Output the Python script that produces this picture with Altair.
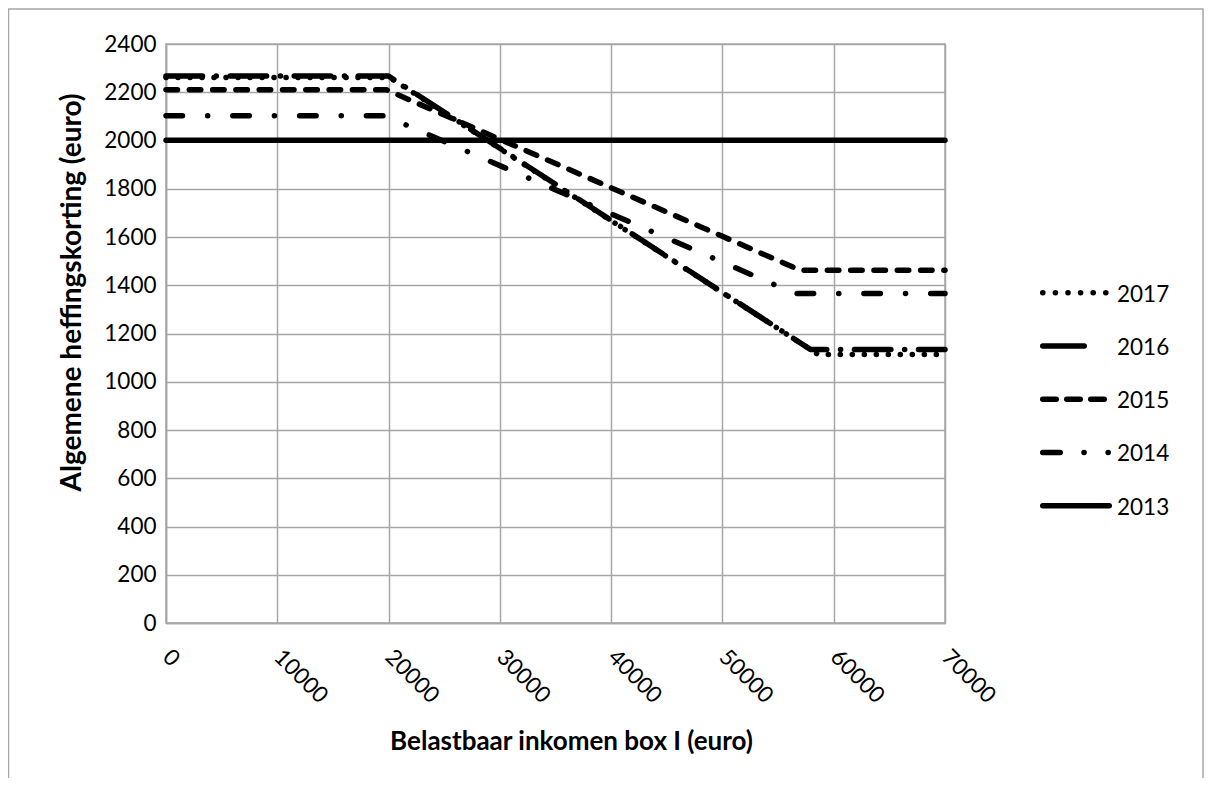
import altair as alt
import pandas as pd

# ---- data ----
years = ["2017", "2016", "2015", "2014", "2013"]

inkomen_2013 = [0, 70000]
korting_2013 = [2001, 2001]

inkomen_2014 = [0, 19645, 56495, 70000]
korting_2014 = [2103, 2103, 1366, 1366]

inkomen_2015 = [0, 19822, 57000, 70000]
korting_2015 = [2210, 2210, 1462, 1462]

inkomen_2016 = [0, 20000, 57900, 70000]
korting_2016 = [2267, 2267, 1134, 1134]

inkomen_2017 = [0, 20108, 58600, 70000]
korting_2017 = [2261, 2261, 1113, 1113]

x_ticks = [0, 10000, 20000, 30000, 40000, 50000, 60000, 70000]
y_ticks = [0, 200, 400, 600, 800, 1000, 1200, 1400, 1600, 1800, 2000, 2200, 2400]

series = {
    "2013": (inkomen_2013, korting_2013),
    "2014": (inkomen_2014, korting_2014),
    "2015": (inkomen_2015, korting_2015),
    "2016": (inkomen_2016, korting_2016),
    "2017": (inkomen_2017, korting_2017),
}
rows = []
for yr, (xs, ys) in series.items():
    for i, (xv, yv) in enumerate(zip(xs, ys)):
        rows.append({"jaar": yr, "inkomen": xv, "korting": yv, "i": i})
df = pd.DataFrame(rows)

leg_df = pd.DataFrame({"jaar": years, "idx": list(range(len(years)))})

# dash patterns (same order as years)
dashes = [
    [0.1, 11.9],                 # 2017 dotted
    [36.5, 13.75, 0.1, 13.75],   # 2016 long dash dot
    [11.5, 11.8],                # 2015 dash
    [16.5, 25.1, 0.1, 25.1],     # 2014 dash dot
    [1, 0],                      # 2013 solid
]
legend_dashes = [
    [0.1, 12.5],
    [41.5, 25, 0.1, 25],
    [13.5, 10.5],
    [17.5, 23.75, 0.1, 24, 0.1, 30],
    [1, 0],
]

GRID = "#a6a6a6"
FONT = "Lato"
LW = 5.5

lines = alt.Chart(df).mark_line(
    color="black", strokeWidth=LW, strokeCap="round", strokeJoin="round"
).encode(
    x=alt.X(
        "inkomen:Q",
        scale=alt.Scale(domain=[0, 70000], nice=False),
        axis=alt.Axis(
            values=x_ticks,
            format="d",
            title="Belastbaar inkomen box I (euro)",
            labelAngle=45,
            labelAlign="left",
            labelBaseline="middle",
            labelPadding=30,
            ticks=False,
            titleX=405,
            titleY=126,
            titleAlign="center",
            titleBaseline="alphabetic",
            titleFontSize=26,
        ),
    ),
    y=alt.Y(
        "korting:Q",
        scale=alt.Scale(domain=[0, 2400], nice=False),
        axis=alt.Axis(
            values=y_ticks,
            format="d",
            title="Algemene heffingskorting (euro)",
            ticks=False,
            labelPadding=10,
            titleX=-94,
            titleY=248,
            titleAngle=-90,
            titleAlign="center",
            titleBaseline="middle",
            titleFontSize=28,
        ),
    ),
    strokeDash=alt.StrokeDash(
        "jaar:N", scale=alt.Scale(domain=years, range=dashes), legend=None
    ),
    order="i:Q",
)

leg_y = alt.Y("idx:Q", scale=alt.Scale(domain=[0, 4], range=[248.7, 461.7]), axis=None)

leg_lines = alt.Chart(leg_df).mark_rule(
    color="black", strokeWidth=LW, strokeCap="round"
).encode(
    x=alt.value(876.75),
    x2=alt.value(943.25),
    y=leg_y,
    strokeDash=alt.StrokeDash(
        "jaar:N", scale=alt.Scale(domain=years, range=legend_dashes), legend=None
    ),
)

leg_text = alt.Chart(leg_df).mark_text(
    align="left", baseline="middle", font=FONT, fontSize=22.5, color="black", dy=2
).encode(
    x=alt.value(951),
    y=leg_y,
    text="jaar:N",
)

frame = alt.Chart(pd.DataFrame({"a": [0]})).mark_rect(
    fillOpacity=0, stroke=GRID, strokeWidth=1.5
).encode(
    x=alt.value(-157.5), x2=alt.value(1037), y=alt.value(-35), y2=alt.value(800)
)

chart = alt.layer(frame, lines, leg_lines, leg_text).resolve_scale(
    y="independent", strokeDash="independent"
).properties(
    width=779,
    height=579,
    padding={"left": 158, "top": 36, "right": 259, "bottom": 155},
    autosize=alt.AutoSizeParams(type="none"),
    background="white",
).configure_view(
    stroke=GRID, strokeWidth=1.5
).configure_axis(
    grid=True,
    gridColor=GRID,
    gridWidth=1.5,
    domainColor=GRID,
    domainWidth=1.5,
    labelFont=FONT,
    labelFontSize=22.5,
    labelColor="black",
    titleFont=FONT,
    titleFontWeight="bold",
    titleColor="black",
)

chart.save("out.html", embed_options={"renderer": "svg", "actions": False})
